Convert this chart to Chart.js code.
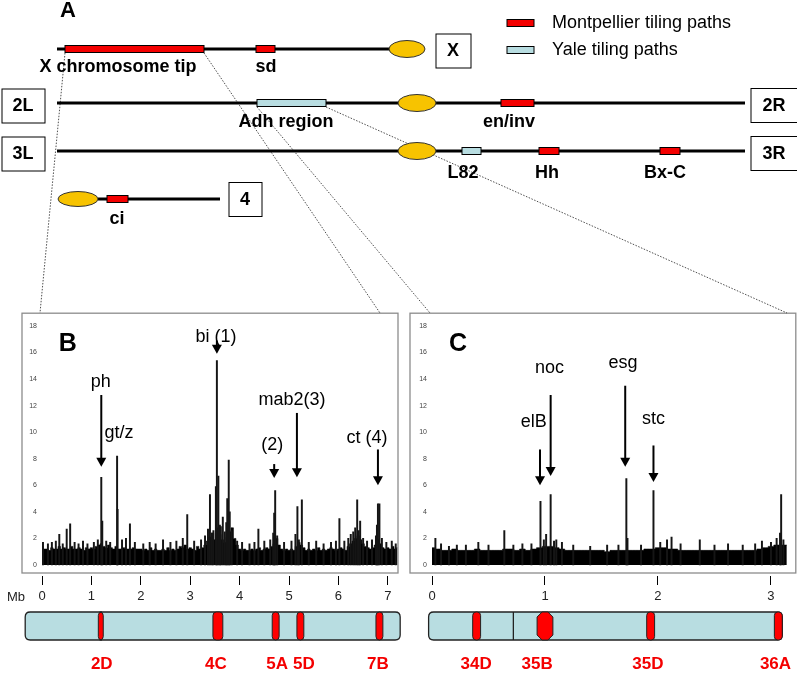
<!DOCTYPE html>
<html>
<head>
<meta charset="utf-8">
<script src="https://cdn.jsdelivr.net/npm/chart.js@4.4.1/dist/chart.umd.min.js"></script>
<style>
  html, body { margin: 0; padding: 0; background: #fff; }
  #page { position: relative; width: 797px; height: 673px; overflow: hidden; }
  canvas { position: absolute; }
  #chartB { left: 0; top: 300px; }
  #chartC { left: 400px; top: 300px; }
  #top { left: 0; top: 0; }
</style>
</head>
<body>
<div id="page">
  <canvas id="chartB" width="402" height="373"></canvas>
  <canvas id="chartC" width="397" height="373"></canvas>
  <canvas id="top" width="797" height="316"></canvas>
</div>
<script>
// ---- panel A : schematic chromosome map (map units along the drawing) ----
const armName  = ['X', '2', '3', '4']
const armRow   = [49, 103, 151, 199]
const armStart = [57, 57, 57, 98]
const armEnd   = [400, 745, 745, 220]
const centroPos = [407, 417, 417, 78]

const pathName  = ['X chromosome tip', 'sd', 'Adh region', 'en/inv', 'L82', 'Hh', 'Bx-C', 'ci']
const pathRow   = [49, 49, 103, 103, 151, 151, 151, 199]
const pathStart = [65, 256, 257, 501, 462, 539, 660, 107]
const pathEnd   = [204, 275, 326, 534, 481, 559, 680, 128]
const pathLab   = ['Montpellier', 'Montpellier', 'Yale', 'Montpellier', 'Yale', 'Montpellier', 'Montpellier', 'Montpellier']
const pathTextX = [118, 266, 286, 509, 463, 547, 665, 117]
const pathTextY = [67, 67, 122, 122, 173, 173, 173, 219]

const boxName = ['X', '2L', '2R', '3L', '3R', '4']
const boxX    = [453, 23, 774, 23, 774, 245]
const boxY    = [50.5, 105.5, 105, 153.5, 153, 199]
const boxW    = [35, 43, 47, 43, 47, 33]

const legendName = ['Montpellier tiling paths', 'Yale tiling paths']
const legendKey  = ['Montpellier', 'Yale']

// zoom lines from the map to panels B and C
const zoomFromX = [65, 204, 257, 326]
const zoomFromY = [53, 53, 107, 107]
const zoomToX   = [40, 380, 430, 787]
const zoomToY   = [313, 313, 313, 313]

// ---- panels B and C : signal along the region (Mb) ----
const yTicks  = [0, 2, 4, 6, 8, 10, 12, 14, 16, 18]
const xTicksB = [0, 1, 2, 3, 4, 5, 6, 7]
const xTicksC = [0, 1, 2, 3]
const floorStep = 0.05

const floorB = [
  1.4, 1.2, 1.2, 1.1, 1.3, 1.2, 1.2, 1.4, 1.2, 1.3, 1.2, 1.2, 1.4, 1.2, 1.2, 1.3, 1.2, 1.1, 1.3, 1.2,
  1.3, 1.2, 1.4, 1.5, 1.6, 1.4, 1.3, 1.5, 1.3, 1.2, 1.4, 1.2, 1.2, 1.3, 1.2, 1.2, 1.2, 1.3, 1.2, 1.2,
  1.2, 1.1, 1.2, 1.1, 1.3, 1.1, 1.2, 1.1, 1.1, 1.2, 1.1, 1.3, 1.1, 1.2, 1.1, 1.2, 1.4, 1.3, 1.5, 1.2,
  1.3, 1.2, 1.1, 1.4, 1.2, 1.3, 1.5, 1.8, 2.1, 2.4, 1.9, 2.8, 2.3, 1.9, 1.7, 2.1, 2.5, 2.8, 2.0, 1.5,
  1.2, 1.1, 1.2, 1.1, 1.1, 1.2, 1.1, 1.2, 1.3, 1.1, 1.2, 1.3, 1.2, 1.4, 1.6, 2.0, 1.5, 1.2, 1.1, 1.2,
  1.1, 1.2, 1.1, 1.4, 1.7, 1.5, 1.3, 1.1, 1.2, 1.1, 1.2, 1.1, 1.3, 1.1, 1.2, 1.1, 1.2, 1.3, 1.2, 1.1,
  1.2, 1.3, 1.2, 1.1, 1.4, 1.6, 1.8, 2.0, 2.2, 1.9, 1.6, 1.4, 1.3, 1.2, 1.3, 1.5, 1.9, 1.6, 1.3, 1.2,
  1.3, 1.2, 1.4, 1.2, 1.3
]
const spikePosB = [
  0.02, 0.12, 0.20, 0.28, 0.35, 0.42, 0.50, 0.57, 0.66, 0.74, 0.83, 0.92, 1.05, 1.13, 1.20, 1.22,
  1.30, 1.38, 1.52, 1.53, 1.62, 1.70, 1.78, 1.88, 2.05, 2.18, 2.30, 2.45, 2.60, 2.72, 2.85, 2.94,
  3.08, 3.22, 3.30, 3.36, 3.40, 3.44, 3.47, 3.52, 3.54, 3.57, 3.60, 3.62, 3.66, 3.70, 3.73, 3.75,
  3.78, 3.80, 3.84, 3.95, 4.05, 4.20, 4.30, 4.38, 4.50, 4.62, 4.68, 4.70, 4.72, 4.76, 4.90, 5.05,
  5.13, 5.17, 5.20, 5.26, 5.40, 5.55, 5.70, 5.85, 5.95, 6.02, 6.12, 6.20, 6.25, 6.30, 6.34, 6.38,
  6.41, 6.44, 6.50, 6.58, 6.68, 6.76, 6.78, 6.80, 6.83, 6.88, 6.97, 7.08, 7.16
]
const spikeValB = [
  1.7, 1.6, 1.7, 1.8, 2.3, 1.6, 2.7, 3.1, 1.7, 1.6, 1.8, 1.6, 1.7, 1.9, 6.6, 3.3,
  1.8, 1.7, 8.2, 4.2, 1.9, 2.0, 3.1, 1.7, 1.6, 1.7, 1.6, 1.9, 1.7, 1.8, 2.0, 3.8,
  1.8, 1.9, 2.2, 2.7, 5.3, 2.4, 2.6, 5.9, 15.4, 6.7, 3.0, 2.9, 3.6, 2.5, 3.2, 5.0,
  7.9, 4.0, 2.6, 1.8, 1.7, 1.6, 1.7, 2.7, 1.8, 1.9, 2.4, 3.9, 5.6, 2.2, 1.7, 1.8,
  2.3, 4.4, 1.9, 4.9, 1.7, 1.8, 1.6, 1.7, 1.8, 3.5, 1.8, 2.0, 2.3, 2.5, 2.8, 4.9,
  2.6, 3.3, 2.0, 1.8, 1.9, 2.2, 3.0, 4.6, 4.6, 2.0, 1.7, 1.8, 1.6
]

const floorC = [
  1.3, 1.2, 1.1, 1.1, 1.2, 1.1, 1.1, 1.1, 1.2, 1.1,
  1.1, 1.1, 1.1, 1.2, 1.2, 1.1, 1.2, 1.1, 1.2, 1.3,
  1.4, 1.4, 1.3, 1.2, 1.1, 1.1, 1.1, 1.1, 1.1, 1.1,
  1.1, 1.0, 1.1, 1.1, 1.1, 1.1, 1.1, 1.1, 1.2, 1.2,
  1.3, 1.3, 1.2, 1.2, 1.1, 1.1, 1.1, 1.1, 1.1, 1.1,
  1.1, 1.1, 1.1, 1.1, 1.1, 1.1, 1.1, 1.1, 1.2, 1.3,
  1.4, 1.5, 1.5, 1.5
]
const spikePosC = [
  0.03, 0.08, 0.15, 0.22, 0.30, 0.41, 0.50, 0.64, 0.72, 0.80, 0.88, 0.96, 0.99, 1.01, 1.05, 1.08,
  1.10, 1.15, 1.25, 1.40, 1.55, 1.65, 1.72, 1.73, 1.85, 1.96, 2.02, 2.08, 2.12, 2.20, 2.37, 2.50,
  2.62, 2.75, 2.86, 2.92, 3.00, 3.05, 3.08, 3.09, 3.11
]
const spikeValC = [
  2.0, 1.6, 1.4, 1.5, 1.5, 1.7, 1.5, 2.6, 1.5, 1.6, 1.6, 4.8, 1.9, 2.3, 5.3, 1.8,
  1.9, 1.7, 1.5, 1.4, 1.5, 1.5, 6.5, 2.0, 1.5, 5.6, 1.7, 1.9, 2.1, 1.6, 1.9, 1.5,
  1.6, 1.5, 1.6, 1.8, 1.7, 2.0, 2.4, 5.3, 1.9
]

// gene annotations (label position, arrow from / to, in Mb and signal units)
const geneB       = ['ph', 'gt/z', 'bi (1)', '(2)', 'mab2(3)', 'ct (4)']
const geneLabelXB = [1.19, 1.56, 3.52, 4.66, 5.06, 6.58]
const geneLabelYB = [13.8, 9.9, 17.2, 9.0, 12.4, 9.55]
const arrowXB     = [1.20, null, 3.54, 4.70, 5.16, 6.80]
const arrowFromB  = [12.8, null, 16.9, 7.6, 11.45, 8.7]
const arrowToB    = [7.4, null, 15.9, 6.55, 6.6, 6.0]

const geneC       = ['noc', 'elB', 'esg', 'stc']
const geneLabelXC = [1.04, 0.90, 1.69, 1.96]
const geneLabelYC = [14.8, 10.8, 15.2, 11.0]
const arrowXC     = [1.05, 0.956, 1.71, 1.96]
const arrowFromC  = [12.8, 8.7, 13.5, 9.0]
const arrowToC    = [6.7, 6.0, 7.4, 6.25]

// cytological bands under each panel (Mb)
const bandNameB  = ['2D', '4C', '5A', '5D', '7B']
const bandStartB = [1.14, 3.46, 4.66, 5.16, 6.76]
const bandEndB   = [1.24, 3.66, 4.80, 5.30, 6.90]
const bandTextB  = [1.21, 3.52, 4.76, 5.30, 6.80]
const bandSpanB  = [-0.34, 7.25]

const bandNameC  = ['34D', '35B', '35D', '36A']
const bandStartC = [0.36, 0.93, 1.90, 3.03]
const bandEndC   = [0.43, 1.07, 1.97, 3.10]
const bandTextC  = [0.39, 0.93, 1.91, 3.04]
const bandSpanC  = [-0.03, 3.10]
const bandDivC   = [0.72]

const FONT = '"Liberation Sans", Arial, sans-serif'
const RED = '#f40000'
const BLUE = '#b8dde1'
const YELLOW = '#f7c300'
const pathColor = { Montpellier: RED, Yale: BLUE }

Chart.defaults.font.family = FONT

// ---------- panel A ----------
const mapPlugin = {
    id: 'map',
    afterDatasetsDraw(chart) {
        const c = chart.ctx
        const x = chart.scales.x, y = chart.scales.y
        const px = v => x.getPixelForValue(v)
        const py = v => y.getPixelForValue(v)
        c.save()

        // tiling paths
        pathName.forEach((n, i) => {
            const x0 = px(pathStart[i]), x1 = px(pathEnd[i]), yy = py(pathRow[i])
            c.fillStyle = pathColor[pathLab[i]]
            c.fillRect(x0, yy - 3.5, x1 - x0, 7)
            c.strokeStyle = '#000'
            c.lineWidth = 1
            c.strokeRect(x0, yy - 3.5, x1 - x0, 7)
        })

        // centromeres
        armName.forEach((n, i) => {
            const rx = i == 3 ? 20 : (i == 0 ? 18 : 19)
            const ry = i == 3 ? 7.5 : 8.5
            c.beginPath()
            c.ellipse(px(centroPos[i]), py(armRow[i]), rx, ry, 0, 0, Math.PI * 2)
            c.fillStyle = YELLOW
            c.fill()
            c.strokeStyle = '#333'
            c.lineWidth = 1
            c.stroke()
        })

        // path labels
        c.fillStyle = '#000'
        c.font = 'bold 18px ' + FONT
        c.textAlign = 'center'
        c.textBaseline = 'middle'
        pathName.forEach((n, i) => c.fillText(n, px(pathTextX[i]), py(pathTextY[i])))

        // arm boxes
        boxName.forEach((n, i) => {
            const cx = px(boxX[i]), cy = py(boxY[i]), w = boxW[i], h = 34
            c.fillStyle = '#fff'
            c.fillRect(cx - w / 2, cy - h / 2, w, h)
            c.strokeStyle = '#000'
            c.lineWidth = 1
            c.strokeRect(cx - w / 2 + 0.5, cy - h / 2 + 0.5, w, h)
            c.fillStyle = '#000'
            c.fillText(n, cx, cy + 1)
        })

        // legend
        legendName.forEach((n, i) => {
            const yy = py(23 + i * 27)
            c.fillStyle = pathColor[legendKey[i]]
            c.fillRect(px(507), yy - 3.5, 27, 7)
            c.strokeStyle = '#000'
            c.strokeRect(px(507), yy - 3.5, 27, 7)
            c.fillStyle = '#000'
            c.font = '18px ' + FONT
            c.textAlign = 'left'
            c.fillText(n, px(552), yy)
        })

        c.font = 'bold 22px ' + FONT
        c.textAlign = 'center'
        c.fillText('A', px(68), py(11))
        c.restore()
    }
}

const mapSets = []
armName.forEach((n, i) => {
    mapSets.push({
        data: [{ x: armStart[i], y: armRow[i] }, { x: armEnd[i], y: armRow[i] }],
        borderColor: '#000', borderWidth: 3, pointRadius: 0
    })
})
zoomFromX.forEach((v, i) => {
    mapSets.push({
        data: [{ x: v, y: zoomFromY[i] }, { x: zoomToX[i], y: zoomToY[i] }],
        borderColor: '#222', borderWidth: 0.8, borderDash: [1.5, 1.5], pointRadius: 0
    })
})

new Chart(document.getElementById('top'), {
    type: 'line',
    data: { datasets: mapSets },
    options: {
        responsive: false,
        animation: false,
        layout: { padding: 0 },
        scales: {
            x: { type: 'linear', min: 0, max: 797, display: false },
            y: { type: 'linear', min: 0, max: 316, reverse: true, display: false }
        },
        plugins: { legend: { display: false }, tooltip: { enabled: false } }
    },
    plugins: [mapPlugin]
})

// ---------- panels B and C ----------
function roundRect(c, x, y, w, h, r) {
    c.beginPath()
    c.moveTo(x + r, y)
    c.lineTo(x + w - r, y)
    c.quadraticCurveTo(x + w, y, x + w, y + r)
    c.lineTo(x + w, y + h - r)
    c.quadraticCurveTo(x + w, y + h, x + w - r, y + h)
    c.lineTo(x + r, y + h)
    c.quadraticCurveTo(x, y + h, x, y + h - r)
    c.lineTo(x, y + r)
    c.quadraticCurveTo(x, y, x + r, y)
    c.closePath()
}

function octagon(c, x, y, w, h, k) {
    c.beginPath()
    c.moveTo(x + k, y)
    c.lineTo(x + w - k, y)
    c.lineTo(x + w, y + k)
    c.lineTo(x + w, y + h - k)
    c.lineTo(x + w - k, y + h)
    c.lineTo(x + k, y + h)
    c.lineTo(x, y + h - k)
    c.lineTo(x, y + k)
    c.closePath()
}

function panelPlugin(p) {
    return {
        id: 'panel' + p.letter,
        afterDraw(chart) {
            const c = chart.ctx
            const a = chart.chartArea
            const x = chart.scales.x, y = chart.scales.y
            c.save()

            // frame
            c.strokeStyle = '#8c8c8c'
            c.lineWidth = 1.3
            c.strokeRect(a.left - p.frameL, a.top + 0.5, a.right + p.frameR - (a.left - p.frameL), a.bottom - 3.5 - a.top)

            // panel letter
            c.fillStyle = '#000'
            c.font = 'bold 25px ' + FONT
            c.textAlign = 'center'
            c.textBaseline = 'middle'
            c.fillText(p.letter, x.getPixelForValue(p.letterX), y.getPixelForValue(16.6))

            // gene labels and arrows
            c.font = '18px ' + FONT
            p.genes.forEach((g, i) => {
                c.fillStyle = '#000'
                c.fillText(g, x.getPixelForValue(p.labelX[i]), y.getPixelForValue(p.labelY[i]))
                if (p.arrowX[i] == null) return
                const ax = x.getPixelForValue(p.arrowX[i])
                const y0 = y.getPixelForValue(p.arrowFrom[i])
                const y1 = y.getPixelForValue(p.arrowTo[i])
                c.strokeStyle = '#000'
                c.lineWidth = 2
                c.beginPath()
                c.moveTo(ax, y0)
                c.lineTo(ax, y1 - 8)
                c.stroke()
                c.beginPath()
                c.moveTo(ax - 5, y1 - 9)
                c.lineTo(ax + 5, y1 - 9)
                c.lineTo(ax, y1)
                c.closePath()
                c.fill()
            })

            if (p.mb) {
                c.font = '13px ' + FONT
                c.fillStyle = '#222'
                c.fillText('Mb', a.left - 26, a.bottom + 21)
            }

            // chromosome band strip
            const top = a.bottom + 36, h = 28
            const s0 = x.getPixelForValue(p.span[0]), s1 = x.getPixelForValue(p.span[1])
            roundRect(c, s0, top, s1 - s0, h, 5)
            c.fillStyle = BLUE
            c.fill()
            c.strokeStyle = '#222'
            c.lineWidth = 1.3
            c.stroke()
            p.divs.forEach(d => {
                const dx = x.getPixelForValue(d)
                c.beginPath()
                c.moveTo(dx, top)
                c.lineTo(dx, top + h)
                c.stroke()
            })
            p.bands.forEach((b, i) => {
                const b0 = x.getPixelForValue(p.bandStart[i]), b1 = x.getPixelForValue(p.bandEnd[i])
                if (b1 - b0 > 12) octagon(c, b0, top, b1 - b0, h, 5)
                else roundRect(c, b0, top, b1 - b0, h, 3.5)
                c.fillStyle = 'red'
                c.fill()
                c.lineWidth = 1
                c.strokeStyle = '#222'
                c.stroke()
            })
            c.font = 'bold 17px ' + FONT
            c.fillStyle = RED
            p.bands.forEach((b, i) => c.fillText(b, x.getPixelForValue(p.bandText[i]), a.bottom + 88))
            c.restore()
        }
    }
}

function profile(id, p) {
    const floorData = p.floor.map((v, i) => ({ x: Math.round(i * floorStep * 100) / 100, y: v }))
    const spikeData = p.spikePos.map((v, i) => ({ x: v, y: p.spikeVal[i] }))
    return new Chart(document.getElementById(id), {
        type: 'line',
        data: {
            datasets: [
                { type: 'bar', data: spikeData, backgroundColor: '#151515', barThickness: 1.3 },
                { type: 'line', data: floorData, stepped: 'middle', fill: 'origin',
                  backgroundColor: '#000', borderColor: '#000', borderWidth: 0.6, pointRadius: 0 }
            ]
        },
        options: {
            responsive: false,
            animation: false,
            layout: { padding: { left: p.padL, right: p.padR, top: 12.7, bottom: 67 } },
            scales: {
                x: {
                    type: 'linear', min: 0, max: p.xMax, offset: false,
                    afterBuildTicks: s => { s.ticks = p.xTicks.map(v => ({ value: v })) },
                    afterFit: s => { s.height = 30 },
                    grid: { display: true, offset: false, drawOnChartArea: false, drawTicks: true, tickLength: 9, color: '#000', lineWidth: 1 },
                    border: { display: false },
                    ticks: { font: { size: 13 }, color: '#222', padding: 4, maxRotation: 0, autoSkip: false }
                },
                y: {
                    type: 'linear', min: -0.83, max: 19,
                    afterBuildTicks: s => { s.ticks = yTicks.map(v => ({ value: v })) },
                    afterFit: s => { s.width = 20 },
                    grid: { display: false, drawTicks: false },
                    border: { display: false },
                    ticks: { font: { size: 7 }, color: '#444', padding: 5 }
                }
            },
            plugins: { legend: { display: false }, tooltip: { enabled: false } }
        },
        plugins: [panelPlugin(p)]
    })
}

profile('chartB', {
    letter: 'B', letterX: 0.52, mb: true,
    floor: floorB, spikePos: spikePosB, spikeVal: spikeValB,
    xMax: 7.2, xTicks: xTicksB, padL: 22, padR: 4.3, frameL: 20, frameR: 0.3,
    genes: geneB, labelX: geneLabelXB, labelY: geneLabelYB,
    arrowX: arrowXB, arrowFrom: arrowFromB, arrowTo: arrowToB,
    bands: bandNameB, bandStart: bandStartB, bandEnd: bandEndB, bandText: bandTextB,
    span: bandSpanB, divs: []
})

profile('chartC', {
    letter: 'C', letterX: 0.23, mb: false,
    floor: floorC, spikePos: spikePosC, spikeVal: spikeValC,
    xMax: 3.14, xTicks: xTicksC, padL: 12, padR: 10.2, frameL: 22, frameR: 9,
    genes: geneC, labelX: geneLabelXC, labelY: geneLabelYC,
    arrowX: arrowXC, arrowFrom: arrowFromC, arrowTo: arrowToC,
    bands: bandNameC, bandStart: bandStartC, bandEnd: bandEndC, bandText: bandTextC,
    span: bandSpanC, divs: bandDivC
})
</script>
</body>
</html>
